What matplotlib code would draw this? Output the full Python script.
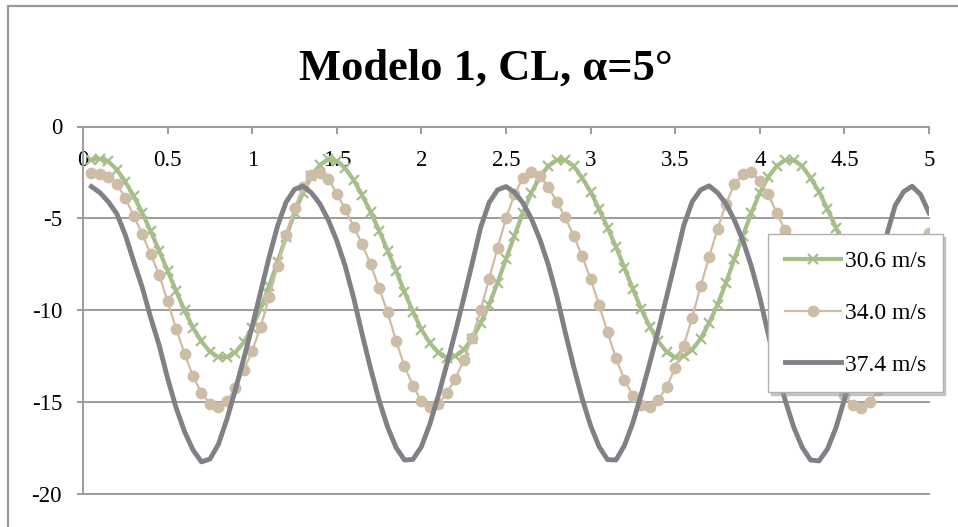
import numpy as np
import matplotlib.pyplot as plt
from matplotlib.patches import Rectangle

plt.rcParams['font.family'] = ['Liberation Serif', 'DejaVu Serif']
plt.rcParams['axes.unicode_minus'] = False

# datos (paso 0.05 s)
tiempo = np.round(np.linspace(0.05, 5.0, 100), 2)

cl_306 = [-1.8, -1.75, -1.9, -2.35, -3.0, -3.8, -4.7, -5.7, -6.75, -7.85,
          -8.95, -10.0, -10.95, -11.7, -12.25, -12.55, -12.55, -12.3, -11.75, -10.95,
          -9.9, -8.7, -7.35, -6.0, -4.7, -3.6, -2.7, -2.1, -1.78, -1.87,
          -2.28, -2.92, -3.74, -4.65, -5.66, -6.75, -7.85, -9.0, -10.08, -11.05,
          -11.78, -12.3, -12.58, -12.5, -12.15, -11.55, -10.7, -9.7, -8.5, -7.2,
          -5.95, -4.7, -3.6, -2.75, -2.15, -1.82, -1.83, -2.15, -2.8, -3.55,
          -4.5, -5.5, -6.55, -7.7, -8.85, -9.95, -10.9, -11.7, -12.27, -12.57,
          -12.5, -12.15, -11.55, -10.7, -9.7, -8.5, -7.2, -5.95, -4.7, -3.6,
          -2.75, -2.15, -1.82, -1.83, -2.15, -2.8, -3.55, -4.5, -5.5, -6.55,
          -7.7, -8.85, -9.95, -10.9, -11.7, -12.27, -12.57, -12.55, -12.2, -11.6]

cl_340 = [-2.52, -2.58, -2.75, -3.14, -3.9, -4.85, -5.86, -6.95, -8.07, -9.52,
          -11.0, -12.36, -13.6, -14.5, -15.1, -15.25, -14.96, -14.23, -13.27, -12.2,
          -10.9, -9.3, -7.6, -5.9, -4.45, -3.3, -2.65, -2.55, -2.85, -3.65,
          -4.5, -5.45, -6.4, -7.5, -8.8, -10.1, -11.65, -13.05, -14.1, -14.95,
          -15.26, -15.1, -14.5, -13.75, -12.7, -11.5, -10.0, -8.3, -6.6, -5.0,
          -3.7, -2.8, -2.5, -2.72, -3.3, -4.1, -4.95, -5.95, -7.05, -8.3,
          -9.7, -11.2, -12.6, -13.8, -14.65, -15.15, -15.25, -14.9, -14.15, -13.15,
          -11.95, -10.4, -8.7, -7.1, -5.6, -4.2, -3.15, -2.6, -2.5, -2.95,
          -3.7, -4.7, -5.65, -6.6, -7.75, -9.0, -10.4, -11.9, -13.6, -14.6,
          -15.15, -15.3, -15.0, -14.35, -13.4, -12.2, -10.8, -9.2, -7.5, -5.8]

cl_374 = [-3.27, -3.6, -4.1, -4.75, -5.9, -7.35, -8.75, -10.4, -11.9, -13.7,
          -15.3, -16.6, -17.6, -18.25, -18.1, -17.3, -15.95, -14.34, -12.64, -10.88,
          -9.0, -7.11, -5.41, -4.12, -3.42, -3.25, -3.61, -4.21, -5.09, -6.22,
          -7.61, -9.34, -11.31, -13.18, -14.9, -16.35, -17.47, -18.15, -18.12, -17.42,
          -16.2, -14.65, -12.95, -11.2, -9.35, -7.45, -5.5, -4.15, -3.45, -3.27,
          -3.58, -4.16, -5.02, -6.14, -7.52, -9.22, -11.19, -13.07, -14.8, -16.28,
          -17.42, -18.13, -18.15, -17.36, -16.12, -14.55, -12.85, -11.1, -9.24, -7.34,
          -5.4, -4.1, -3.45, -3.23, -3.6, -4.2, -5.1, -6.2, -7.6, -9.3,
          -11.3, -13.2, -14.9, -16.35, -17.45, -18.15, -18.2, -17.55, -16.4, -14.85,
          -13.15, -11.4, -9.55, -7.7, -5.9, -4.3, -3.55, -3.25, -3.7, -4.7]

etiquetas = ['30.6 m/s', '34.0 m/s', '37.4 m/s']
xticks = [0, 0.5, 1, 1.5, 2, 2.5, 3, 3.5, 4, 4.5, 5]
yticks = [0, -5, -10, -15, -20]

GRIS = '#9c9c9c'
W, H = 958, 527
fig = plt.figure(figsize=(W / 100, H / 100), dpi=100)
ax = fig.add_axes([83 / W, 1 - 494 / H, (929 - 83) / W, (494 - 126.5) / H])

# series
ax.plot(tiempo, cl_306, color='#a6be89', lw=3.0, marker='x', ms=7, mew=1.6,
        label=etiquetas[0])
ax.plot(tiempo, cl_340, color='#cebda6', lw=1.6, marker='o', ms=8.5, mew=0,
        label=etiquetas[1])
ax.plot(tiempo, cl_374, color='#808086', lw=3.5, solid_joinstyle='round',
        label=etiquetas[2])

ax.set_xlim(0, 5)
ax.set_ylim(-20, 0)

# lineas de division horizontales
for yv in yticks[1:]:
    ax.axhline(yv, color=GRIS, lw=1.4, zorder=0.5, clip_on=False)

# eje x arriba (en y = 0), etiquetas debajo
for s in ['top', 'right']:
    ax.spines[s].set_visible(False)
ax.spines['bottom'].set_position(('data', 0))
ax.spines['bottom'].set_color(GRIS)
ax.spines['bottom'].set_linewidth(1.4)
ax.spines['left'].set_color(GRIS)
ax.spines['left'].set_linewidth(1.4)

ax.set_xticks(xticks, labels=[f'{v:g}' for v in xticks])
ax.set_yticks(yticks, labels=[str(v) for v in yticks])
ax.tick_params(axis='x', direction='out', length=5, width=1.4, color=GRIS,
               pad=12, labelsize=16.5)
ax.tick_params(axis='y', direction='out', length=4.3, width=1.4, color=GRIS,
               pad=10.8, labelsize=16.5)

# leyenda
leg = ax.legend(loc='upper left', bbox_to_anchor=(768 / W, 1 - 234 / H),
                bbox_transform=fig.transFigure, fancybox=False,
                shadow={'color': '0.6', 'alpha': 0.5}, edgecolor='#b0b0b0',
                framealpha=1, fontsize=17, handlelength=2.4, handletextpad=0.15,
                labelspacing=1.28, borderpad=0.7, borderaxespad=0)
leg.get_frame().set_linewidth(1.0)

fig.text(486 / W, 1 - 69 / H, 'Modelo 1, CL, α=5°', ha='center', va='center',
         fontsize=32, fontweight='bold')

# borde del area del grafico
fig.add_artist(Rectangle((8 / W, -0.1), 1.2, 1.1 - 6 / H, transform=fig.transFigure,
                         fill=False, edgecolor='#9a9a9a', linewidth=1.6))

fig.savefig('out.png', dpi=100)
